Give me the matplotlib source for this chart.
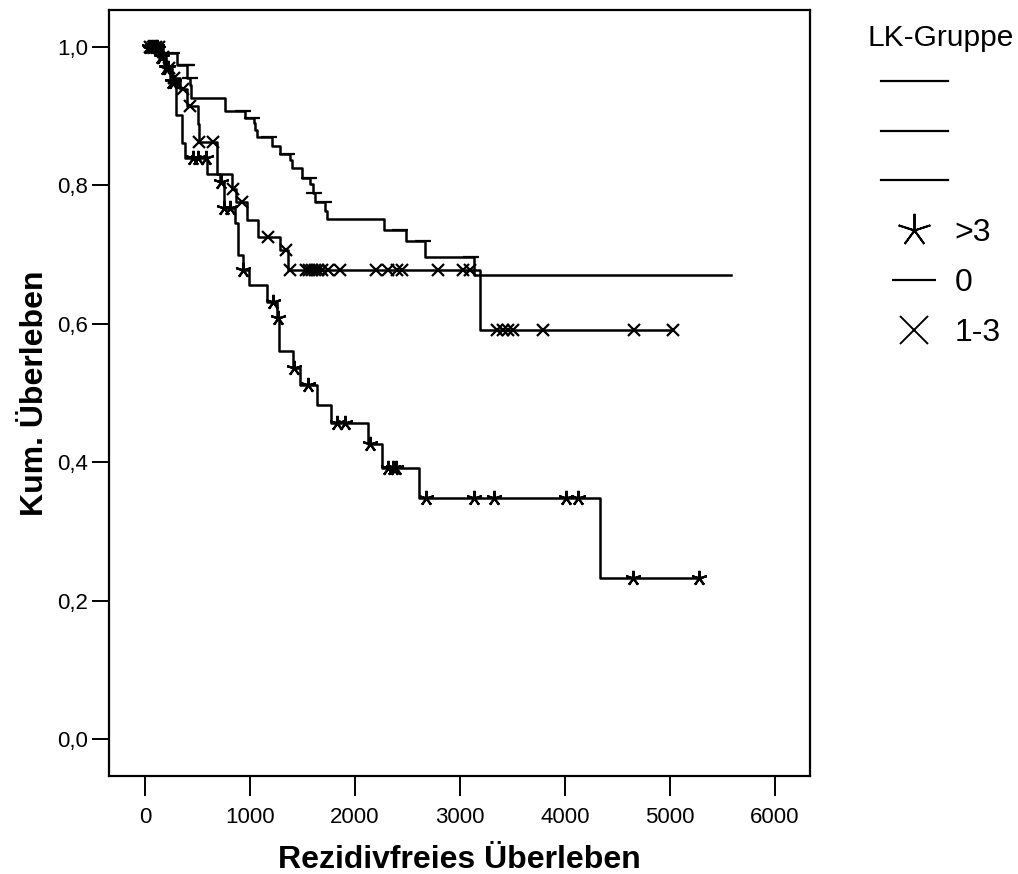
import matplotlib
matplotlib.use("Agg")
import matplotlib.pyplot as plt
from matplotlib.lines import Line2D
import numpy as np

plt.rcParams["font.family"] = ["Liberation Sans", "DejaVu Sans"]

# Kaplan-Meier steps: event times and survival after each event
G0_EVENTS = [171, 308, 403, 428, 437, 762, 952, 1038, 1047, 1063, 1206, 1285, 1380, 1397,
             1498, 1571, 1602, 1618, 1714, 1730, 2275, 2482, 2666, 3132]
G0_SURV = [0.991, 0.974, 0.955, 0.945, 0.926, 0.908, 0.898, 0.890, 0.880, 0.870, 0.857, 0.846,
           0.837, 0.825, 0.811, 0.802, 0.789, 0.776, 0.763, 0.751, 0.736, 0.719, 0.696, 0.6705]
G0_CENS = [60, 90, 120, 254, 387, 400, 425, 936, 1016, 1184, 1355, 1560, 1610, 1700,
           2425, 2650, 3100]
G0_END = 5579

G13_EVENTS = [150, 200, 260, 330, 400, 508, 512, 682, 825, 866, 968, 1079, 1285, 1365, 3190]
G13_SURV = [0.985, 0.970, 0.955, 0.940, 0.915, 0.888, 0.862, 0.817, 0.795, 0.776, 0.750,
            0.726, 0.707, 0.678, 0.591]
G13_CENS = [50, 80, 100, 130, 170, 230, 280, 360, 428, 515, 650, 840, 921, 1168, 1340,
            1381, 1533, 1562, 1590, 1619, 1648, 1686, 1743, 1857, 2200, 2314, 2400, 2448,
            2790, 3029, 3095, 3352, 3410, 3457, 3505, 3790, 4657, 5029]
G13_END = 5029

G3_EVENTS = [120, 180, 240, 295, 349, 381, 587, 714, 752, 857, 889, 930, 993, 1159, 1260,
             1279, 1413, 1476, 1635, 1771, 2127, 2254, 2610, 4333]
G3_SURV = [0.985, 0.970, 0.950, 0.901, 0.861, 0.839, 0.817, 0.805, 0.767, 0.745, 0.699,
           0.678, 0.656, 0.632, 0.608, 0.560, 0.536, 0.511, 0.483, 0.457, 0.426, 0.392,
           0.348, 0.233]
G3_CENS = [40, 70, 95, 110, 150, 165, 200, 220, 260, 280, 460, 508, 581, 720, 755, 810,
           936, 1222, 1262, 1422, 1555, 1826, 1905, 2143, 2317, 2365, 2390, 2676, 3133,
           3324, 4010, 4124, 4650, 5279]
G3_END = 5279

X_TICKS = [0, 1000, 2000, 3000, 4000, 5000, 6000]
Y_TICKS = [0.0, 0.2, 0.4, 0.6, 0.8, 1.0]


def step_xy(events, surv, end):
    t = np.concatenate([[0.0], events, [end]])
    s = np.concatenate([[1.0], surv, [surv[-1]]])
    return t, s


def surv_at(times, events, surv):
    idx = np.searchsorted(np.asarray(events), np.asarray(times), side="right")
    return np.concatenate([[1.0], surv])[idx]


fig = plt.figure(figsize=(10.18, 8.74), dpi=100)
ax = fig.add_axes([0.1071, 0.1121, 0.6886, 0.8765])

groups = [
    (G3_EVENTS, G3_SURV, G3_CENS, G3_END, (5, 2, 0), 11),
    (G0_EVENTS, G0_SURV, G0_CENS, G0_END, "_", 12),
    (G13_EVENTS, G13_SURV, G13_CENS, G13_END, "x", 9),
]
for events, surv, cens, end, marker, ms in groups:
    t, s = step_xy(events, surv, end)
    ax.plot(t, s, drawstyle="steps-post", color="black", linewidth=1.8)
    ax.plot(cens, surv_at(cens, events, surv), linestyle="none", marker=marker,
            markersize=ms, markeredgewidth=1.6, color="black")

ax.set_xlim(-343, 6333)
ax.set_ylim(-0.0535, 1.0535)
ax.set_xticks(X_TICKS)
ax.set_yticks(Y_TICKS)
ax.set_yticklabels([f"{v:.1f}".replace(".", ",") for v in Y_TICKS])
ax.tick_params(axis="x", length=14.4, width=1.4, pad=8, labelsize=16)
ax.tick_params(axis="y", length=12, width=1.4, pad=3, labelsize=16)
for sp in ax.spines.values():
    sp.set_linewidth(1.6)

ax.set_xlabel("Rezidivfreies Überleben", fontsize=23, fontweight="bold", labelpad=12)
ax.set_ylabel("Kum. Überleben", fontsize=23, fontweight="bold", labelpad=5)

handles = [
    Line2D([], [], color="black", linewidth=1.6),
    Line2D([], [], color="black", linewidth=1.6),
    Line2D([], [], color="black", linewidth=1.6),
    Line2D([], [], linestyle="none", marker=(5, 2, 0), markersize=24, markeredgewidth=1.4, color="black"),
    Line2D([], [], linestyle="none", marker="_", markersize=31, markeredgewidth=1.6, color="black"),
    Line2D([], [], linestyle="none", marker="x", markersize=20, markeredgewidth=1.4, color="black"),
]
labels = ["", "", "", ">3", "0", "1-3"]
leg = fig.legend(handles, labels, title="LK-Gruppe", loc="upper left",
                 bbox_to_anchor=(861 / 1018, 1 - 18 / 874), frameon=False, fontsize=23,
                 title_fontsize=21.5, handlelength=2.12, handletextpad=0.19, labelspacing=0.62,
                 borderpad=0.2, borderaxespad=0)
leg._legend_box.sep = 12

fig.savefig("out.png", dpi=100)
